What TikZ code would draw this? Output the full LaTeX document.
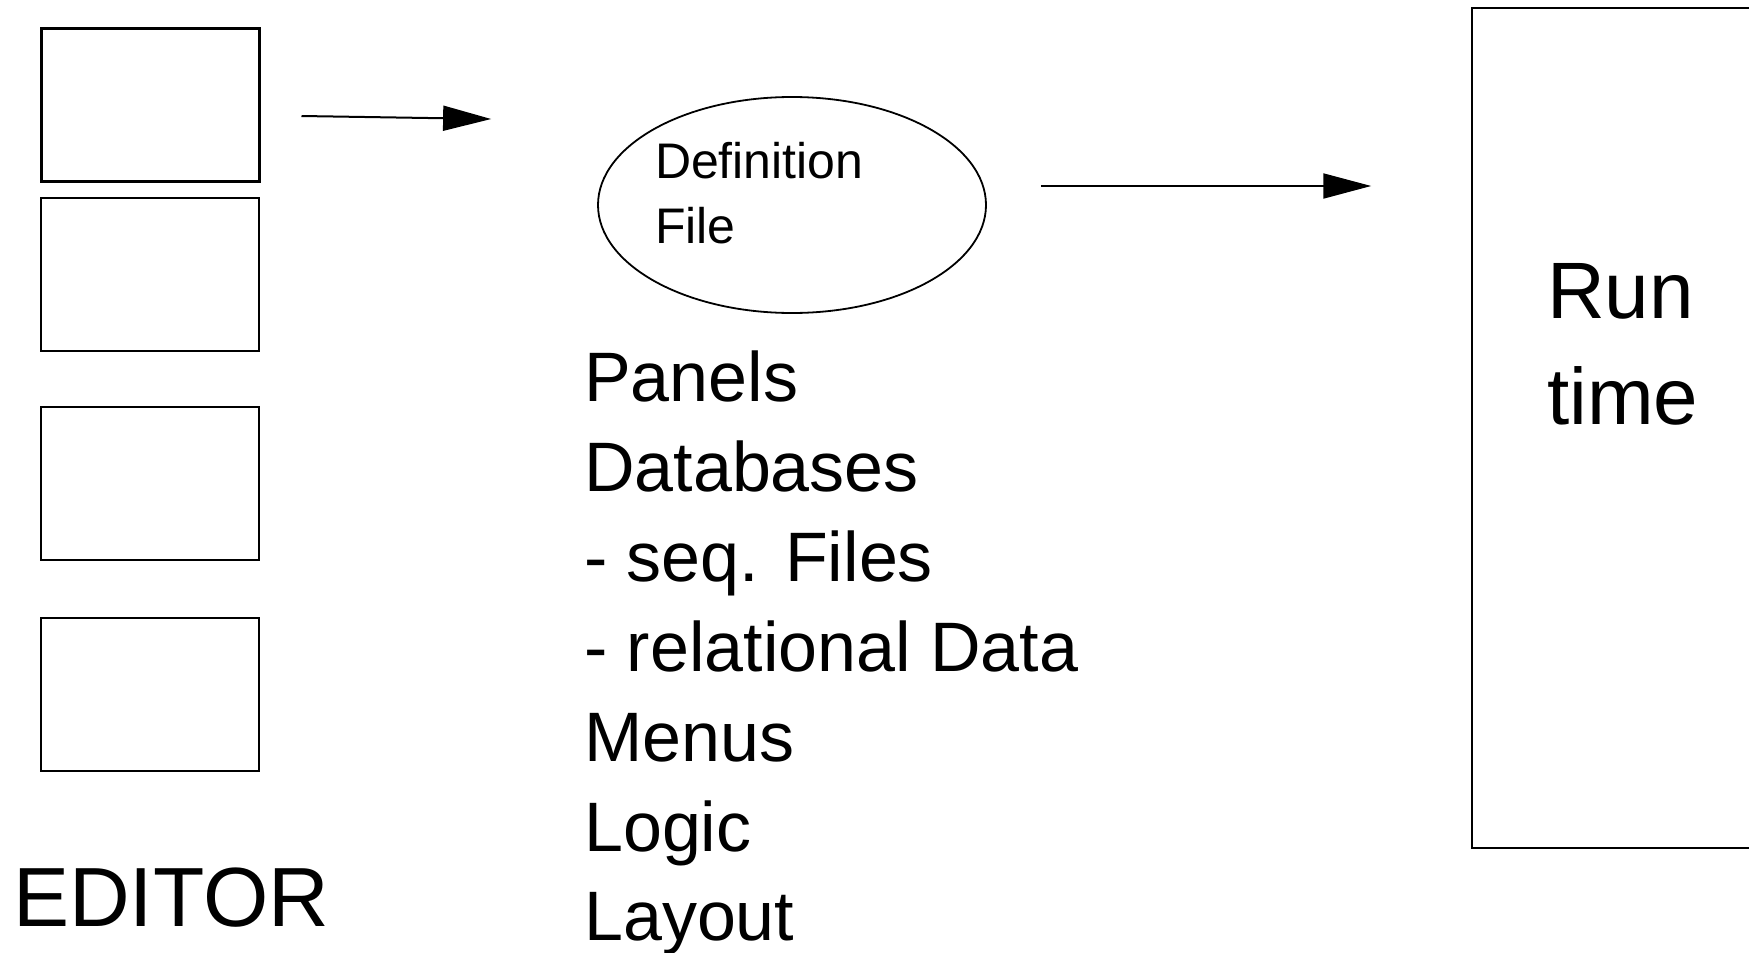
\documentclass[tikz,border=0pt]{standalone}
\usepackage{fontspec}
\setmainfont{Liberation Sans}
\usetikzlibrary{arrows.meta, shapes.geometric, calc}
\tikzset{
    editor-box/.style={
        draw, line width=2pt, minimum width=218pt, minimum height=153pt, inner sep=0pt
    },
    def-ellipse/.style={
        ellipse, draw, line width=1.8pt, minimum width=388pt, minimum height=216pt,
        align=left, text width=274pt, inner sep=0pt, font=\fontsize{50}{65}\selectfont
    },
    flow-arrow/.style={
        -{Triangle[length=48pt, width=25pt]}, line width=2pt
    },
    list-text/.style={
        anchor=base west, inner sep=0pt, font=\fontsize{70}{90}\selectfont
    },
}

\begin{document}
\begin{tikzpicture}[x=1pt, y=-1pt]
        \useasboundingbox (0,0) rectangle (1749,953);

        % EDITOR SCREENS
        \node[editor-box, line width=3pt] (SCREEN1) at (150,104.5) {};
        \node[editor-box]                 (SCREEN2) at (150,274)   {};
        \node[editor-box]                 (SCREEN3) at (150,483.5) {};
        \node[editor-box]                 (SCREEN4) at (150,694.5) {};
        \node[anchor=base west, inner sep=0pt, font=\fontsize{84}{84}\selectfont] (EDITOR) at (13,926) {EDITOR};

        % DEFINITION FILE AND CONTENTS
        \node[def-ellipse, text depth=90pt] (DEFFILE) at (792,205) {Definition\\File};
        \foreach \entry [count=\i] in {Panels, Databases, - seq. Files, - relational Data, Menus, Logic, Layout}
            \node[list-text] (ITEM\i) at (584,{401.5+89.9*(\i-1)}) {\entry};

        % RUN TIME
        \node[draw, line width=1.5pt, minimum width=308pt, minimum height=840pt, inner sep=0pt] (RUNBOX) at (1626,428) {};
        \node[anchor=west, align=left, inner sep=0pt, font=\fontsize{80}{106}\selectfont] (RUNTIME) at (1547,344.5) {Run\\time};

        % ARROW END POINTS
        \coordinate (EDITOUT) at ($(SCREEN1.east) + (41,11.5)$);
        \coordinate (DEFIN)   at ($(DEFFILE.west) + (-106,-86)$);
        \coordinate (DEFOUT)  at ($(DEFFILE.east) + (54,-19)$);
        \coordinate (RUNIN)   at ($(RUNBOX.west)  + (-100,-242)$);

        % ARROWS
        \draw[flow-arrow] (EDITOUT) -- (DEFIN);
        \draw[flow-arrow] (DEFOUT)  -- (RUNIN);

\end{tikzpicture}
\end{document}
